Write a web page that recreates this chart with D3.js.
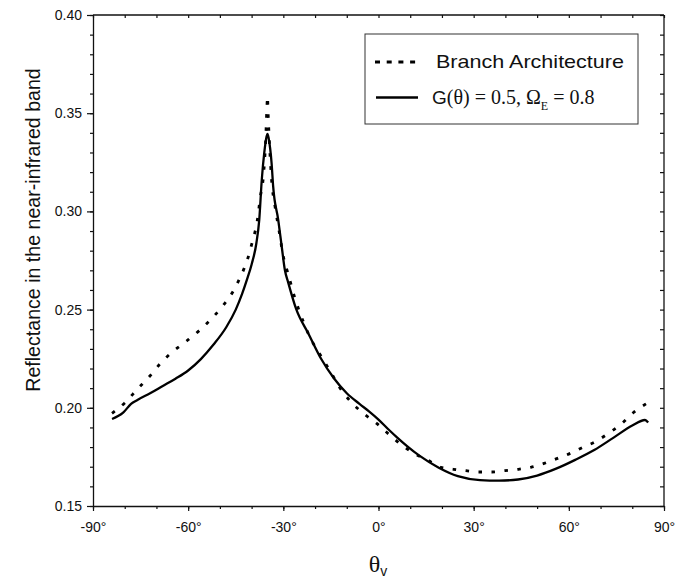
<!DOCTYPE html>
<html>
<head>
<meta charset="utf-8">
<script src="https://cdn.jsdelivr.net/npm/d3@7/dist/d3.min.js"></script>
<style>
  html, body { margin: 0; padding: 0; background: #fff; }
  svg { display: block; }
  text { font-family: "Liberation Sans", Arial, sans-serif; fill: #111; }
</style>
</head>
<body>
<svg id="chart" width="684" height="580"></svg>
<script>
// ---- data ----
const solidAngles = [-84, -80.5, -78, -76, -72, -68, -64, -60, -56, -52, -48, -45, -43, -41.5, -40, -38.5, -37.6, -36.8, -36, -35.3, -35, -34.6, -33.7, -33.2, -31.6, -30.5, -29.5, -28.5, -26, -22, -18, -14, -10, -6, -3, 0, 3, 6, 9, 13, 19, 25, 32, 38, 44, 50, 56, 62, 68, 74, 80, 84, 85];
const solidValues = [0.1943, 0.1975, 0.2020, 0.2040, 0.2074, 0.2111, 0.2148, 0.2190, 0.2248, 0.2322, 0.2410, 0.2500, 0.2580, 0.2651, 0.2730, 0.2838, 0.2956, 0.3160, 0.3300, 0.3380, 0.3395, 0.3370, 0.3245, 0.3126, 0.2956, 0.2820, 0.2700, 0.2640, 0.2505, 0.2375, 0.2247, 0.2149, 0.2074, 0.2020, 0.1982, 0.1940, 0.1892, 0.1847, 0.1805, 0.1755, 0.1695, 0.1652, 0.1632, 0.1629, 0.1635, 0.1655, 0.1690, 0.1735, 0.1785, 0.1847, 0.1910, 0.1938, 0.1925];

const branchAngles = [-84, -80, -76, -72, -68.7, -64.7, -60.5, -56.3, -52.3, -48.7, -46, -43.9, -42.1, -40.7, -39.7, -38.6, -37.9, -37.4, -36.3, -35.6, -35.2, -35.0, -34.8, -34.3, -33.7, -32.6, -31.3, -30.0, -28.7, -27.6, -26.5, -25.1, -23.7, -21.8, -18, -14.7, -12.4, -9, -4.8, -0.6, 3.4, 7.6, 11.5, 15.5, 19.6, 23.6, 27.6, 31.7, 35.7, 39.9, 44.1, 48, 52.2, 56.2, 60.4, 64.4, 68.3, 72.5, 76.5, 80.3, 84.6];
const branchValues = [0.1972, 0.2025, 0.2095, 0.2163, 0.2227, 0.2288, 0.2340, 0.2396, 0.2459, 0.2527, 0.2588, 0.2654, 0.2720, 0.2787, 0.2850, 0.2919, 0.2987, 0.3058, 0.3177, 0.3350, 0.3520, 0.3585, 0.3500, 0.3320, 0.3160, 0.3024, 0.2897, 0.2770, 0.2693, 0.2630, 0.2566, 0.2498, 0.2438, 0.2366, 0.2260, 0.2172, 0.2107, 0.2036, 0.1972, 0.1921, 0.1863, 0.1807, 0.1765, 0.1734, 0.1697, 0.1687, 0.1680, 0.1673, 0.1673, 0.1680, 0.1687, 0.1697, 0.1717, 0.1741, 0.1768, 0.1799, 0.1827, 0.1870, 0.1917, 0.1975, 0.2023];

const xTicks = [-90, -60, -30, 0, 30, 60, 90];
const yTicks = [0.15, 0.20, 0.25, 0.30, 0.35, 0.40];
const legendLabels = ["Branch Architecture", "G(θ) = 0.5, Ω_E = 0.8"];
const yTitle = "Reflectance in the near-infrared band";

// ---- layout ----
const svg = d3.select("#chart");
const L = 93, R = 664, T = 15, B = 506;
const x = d3.scaleLinear().domain([-90, 90]).range([L, R]);
const y = d3.scaleLinear().domain([0.15, 0.40]).range([B, T]);

const minorX = d3.range(-90, 91, 10);
const minorY = d3.range(15, 41, 1).map(v => v / 100);

// bottom axis: minor ticks
svg.append("g").attr("transform", `translate(0,${B})`)
  .call(d3.axisBottom(x).tickValues(minorX).tickSize(3).tickFormat(""))
  .call(g => g.select(".domain").remove());
// bottom axis: major ticks + labels
svg.append("g").attr("transform", `translate(0,${B})`)
  .call(d3.axisBottom(x).tickValues(xTicks).tickSize(5).tickSizeOuter(0).tickPadding(11).tickFormat(d => d + "°"))
  .call(g => g.selectAll("text").style("font-size", "14px").style("font-family", "Liberation Sans, Arial, sans-serif"));

// left axis
svg.append("g").attr("transform", `translate(${L},0)`)
  .call(d3.axisLeft(y).tickValues(minorY).tickSize(3).tickFormat(""))
  .call(g => g.select(".domain").remove());
svg.append("g").attr("transform", `translate(${L},0)`)
  .call(d3.axisLeft(y).tickValues(yTicks).tickSize(6).tickSizeOuter(0).tickPadding(5).tickFormat(d3.format(".2f")))
  .call(g => g.selectAll("text").style("font-size", "14px").style("font-family", "Liberation Sans, Arial, sans-serif"));

// right axis (inward ticks)
svg.append("g").attr("transform", `translate(${R},0)`)
  .call(d3.axisLeft(y).tickValues(minorY).tickSize(4).tickSizeOuter(0).tickFormat(""))
  .call(g => g.selectAll(".tick line").attr("x2", -4).attr("x1", 0))
  .call(g => g.select(".domain").attr("d", `M0,${T}V${B}`));
// top axis (inward ticks)
svg.append("g").attr("transform", `translate(0,${T})`)
  .call(d3.axisBottom(x).tickValues(minorX).tickSize(3).tickSizeOuter(0).tickFormat(""))
  .call(g => g.select(".domain").attr("d", `M${L},0H${R}`));

svg.selectAll(".domain").attr("stroke", "#111").attr("stroke-width", 1.3);
svg.selectAll(".tick line").attr("stroke", "#111").attr("stroke-width", 1.2);

// ---- lines ----
const line = d3.line().x(d => x(d[0])).y(d => y(d[1])).curve(d3.curveMonotoneX);
const solidData = solidAngles.map((a, i) => [a, solidValues[i]]);
const branchData = branchAngles.map((a, i) => [a, branchValues[i]]);

svg.append("path").datum(solidData)
  .attr("d", line).attr("fill", "none").attr("stroke", "#000")
  .attr("stroke-width", 2.3).attr("stroke-linejoin", "round");
svg.append("path").datum(branchData)
  .attr("d", line).attr("fill", "none").attr("stroke", "#000")
  .attr("stroke-width", 2.8).attr("stroke-dasharray", "3.5,9.5");

// ---- legend ----
const lg = svg.append("g");
lg.append("rect").attr("x", 365).attr("y", 34).attr("width", 273).attr("height", 90)
  .attr("fill", "#fff").attr("stroke", "#333").attr("stroke-width", 1);
lg.append("line").attr("x1", 375).attr("x2", 420).attr("y1", 62).attr("y2", 62)
  .attr("stroke", "#000").attr("stroke-width", 3).attr("stroke-dasharray", "5,6.7");
lg.append("line").attr("x1", 376).attr("x2", 418).attr("y1", 97.5).attr("y2", 97.5)
  .attr("stroke", "#000").attr("stroke-width", 2.5);
lg.append("text").attr("x", 436).attr("y", 68).attr("font-size", 18.5)
  .attr("textLength", 188).attr("lengthAdjust", "spacingAndGlyphs")
  .text(legendLabels[0]);
const parts = legendLabels[1].split("_"); // ["G(θ) = 0.5, Ω", "E = 0.8"]
const t2 = lg.append("text").attr("x", 432).attr("y", 104).attr("font-size", 20)
  .style("font-family", "Liberation Serif, Times New Roman, serif");
t2.append("tspan").style("font-family", "Liberation Sans, Arial, sans-serif").attr("font-size", 19).text(parts[0].slice(0, 1));
t2.append("tspan").text(parts[0].slice(1));
t2.append("tspan").attr("font-size", 12).attr("dy", 6).text(parts[1].slice(0, 1));
t2.append("tspan").attr("dy", -6).text(" " + parts[1].slice(2));

// ---- axis titles ----
svg.append("text").attr("transform", "translate(40,230) rotate(-90)")
  .attr("text-anchor", "middle").attr("font-size", 19.6).text(yTitle);
const xt = svg.append("text").attr("x", 378).attr("y", 572).attr("text-anchor", "middle")
  .style("font-family", "Liberation Serif, Times New Roman, serif").attr("font-size", 24);
xt.append("tspan").text("θ");
xt.append("tspan").attr("font-size", 14).attr("dy", 4).style("font-family", "Liberation Sans, Arial, sans-serif").text("v");
</script>
</body>
</html>
